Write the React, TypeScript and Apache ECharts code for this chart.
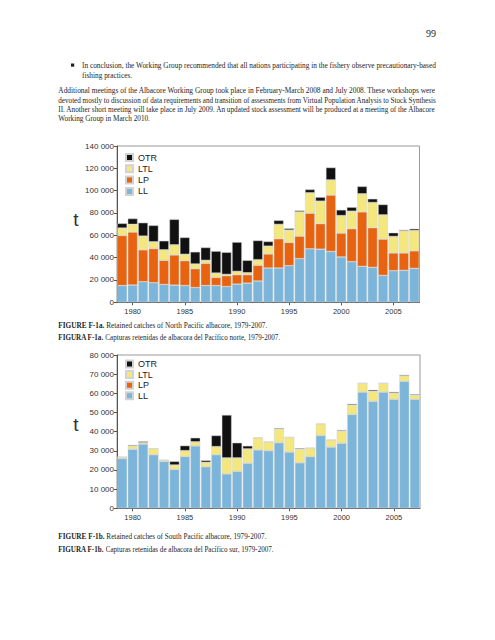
import React, { useEffect, useRef } from 'react';
import * as echarts from 'echarts';

const years = ['1979','1980','1981','1982','1983','1984','1985','1986','1987','1988','1989','1990','1991','1992','1993','1994','1995','1996','1997','1998','1999','2000','2001','2002','2003','2004','2005','2006','2007'];
const gearNames = ['OTR', 'LTL', 'LP', 'LL'];

// North Pacific (t)
const northLL = [15000,15400,18400,17500,16000,15400,15000,13200,15000,15000,14100,16300,17200,19000,30700,30700,32800,39100,47900,47600,45500,40600,36400,32200,31300,24100,28300,28600,30400];
const northLP = [44900,47500,28600,30700,21600,27000,22300,16900,19900,7300,9700,8400,7500,14100,12600,26200,20800,20200,31900,22800,50500,21400,29500,48800,35500,32500,15900,15600,15700];
const northLTL = [6600,6900,12300,6000,9400,9100,5700,4200,2700,3900,1200,3000,1800,5100,7000,12900,11100,21700,18300,20200,13600,15700,15700,16200,22600,21700,14800,19900,18300];
const northOTR = [4200,5200,12000,14700,8100,22800,15100,10900,11500,19600,19800,26200,11100,17200,4200,3600,1500,1200,3000,3600,11100,5100,3600,6600,3300,9300,3300,900,1500];

// South Pacific (t)
const southLL = [26000,30800,33600,28000,24500,20300,27000,32600,21700,28000,18000,19300,23600,30500,30100,34200,29400,23800,27000,38000,32000,34000,49000,60700,55900,60700,56900,66300,56900];
const southLP = [0,200,0,0,0,0,0,0,0,0,0,0,0,0,0,200,0,0,0,0,0,0,0,0,0,0,0,0,0];
const southLTL = [800,1600,700,3200,700,2300,3100,2100,2300,4200,8300,7000,7400,6300,4600,7000,7700,7000,4500,6100,3700,6300,4900,4600,5200,4600,3300,2900,2100];
const southOTR = [0,500,600,0,0,1900,2600,2100,1000,5800,22400,7900,1600,200,0,500,0,500,0,0,0,500,600,0,700,0,600,500,500];

const pageNumber = '99';
const bulletLine1 = 'In conclusion, the Working Group recommended that all nations participating in the fishery observe precautionary-based';
const bulletLine2 = 'fishing practices.';
const paraLines = [
  'Additional meetings of the Albacore Working Group took place in February-March 2008 and July 2008. These workshops were',
  'devoted mostly to discussion of data requirements and transition of assessments from Virtual Population Analysis to Stock Synthesis',
  'II. Another short meeting will take place in July 2009. An updated stock assessment will be produced at a meeting of the Albacore',
  'Working Group in March 2010.',
];
const captions = [
  ['FIGURE F-1a.', ' Retained catches of North Pacific albacore, 1979-2007.'],
  ['FIGURA F-1a.', ' Capturas retenidas de albacora del Pacífico norte, 1979-2007.'],
  ['FIGURE F-1b.', ' Retained catches of South Pacific albacore, 1979-2007.'],
  ['FIGURA F-1b.', ' Capturas retenidas de albacora del Pacífico sur, 1979-2007.'],
];

const COLORS: Record<string, string> = { LL: '#7bb5da', LP: '#e8630f', LTL: '#f3e77d', OTR: '#111111' };
const SERIF = '"Liberation Serif", "Times New Roman", serif';
const SANS = '"Liberation Sans", Arial, sans-serif';

const fmt = (v: number) => String(v).replace(/\B(?=(\d{3})+(?!\d))/g, ' ');

export default function App() {
  const ref = useRef<HTMLDivElement>(null);

  useEffect(() => {
    if (!ref.current) return;
    const ctx = document.createElement('canvas').getContext('2d')!;
    const measure = (t: string, size: number, weight = 'normal') => {
      ctx.font = `${weight} ${size}px ${SERIF}`;
      return ctx.measureText(t).width;
    };
    const FS = 9;
    const textEl = (t: string, x: number, y: number, sx: number, weight = 'normal', size = FS) => ({
      type: 'text', x, y, scaleX: sx, silent: true,
      style: { text: t, fontSize: size, fontFamily: SERIF, fontWeight: weight, fill: '#1e1e1e', textAlign: 'left', textVerticalAlign: 'middle' },
    });
    const justified = (t: string, x0: number, x1: number, y: number) => {
      const s = (x1 - x0) / measure(t, FS);
      return { el: textEl(t, x0, y, s), s };
    };

    const graphics: any[] = [];
    graphics.push({ type: 'text', x: 436, y: 33, silent: true, style: { text: pageNumber, fontSize: 10, fontFamily: SERIF, fill: '#222', textAlign: 'right', textVerticalAlign: 'middle' } });
    graphics.push({ type: 'rect', shape: { x: 71, y: 63.5, width: 3.2, height: 3.2 }, style: { fill: '#222' }, silent: true });
    const j1 = justified(bulletLine1, 82, 436.5, 65.3);
    graphics.push(j1.el);
    graphics.push(textEl(bulletLine2, 82, 75.3, j1.s));
    const paraY = [90.7, 100, 109.2, 118.3];
    let ps = 1;
    paraLines.forEach((t, i) => {
      if (i < 3) {
        const j = justified(t, 58.3, 436.5, paraY[i]);
        ps = j.s;
        graphics.push(j.el);
      } else {
        graphics.push(textEl(t, 58.3, paraY[i], ps));
      }
    });
    const capSpec = [
      { y: 325.7, x1: 267.5 },
      { y: 337.7, x1: 280 },
      { y: 536.7, x1: 266.7 },
      { y: 549, x1: 274 },
    ];
    captions.forEach(([b, r], i) => {
      const wb = measure(b, FS, 'bold');
      const wr = measure(r, FS);
      const s = (capSpec[i].x1 - 58.3) / (wb + wr);
      graphics.push(textEl(b, 58.3, capSpec[i].y, s, 'bold'));
      graphics.push(textEl(r, 58.3 + wb * s, capSpec[i].y, s));
    });
    graphics.push({ type: 'text', x: 76, y: 219, silent: true, style: { text: 't', fontSize: 19, fontFamily: SANS, fill: '#333', textAlign: 'center', textVerticalAlign: 'middle' } });
    graphics.push({ type: 'text', x: 76, y: 424, silent: true, style: { text: 't', fontSize: 19, fontFamily: SANS, fill: '#333', textAlign: 'center', textVerticalAlign: 'middle' } });

    const every5 = (_i: number, v: string) => Number(v) % 5 === 0;
    const xAxisFor = (gi: number) => ({
      gridIndex: gi, type: 'category', data: years,
      axisLine: { show: true, lineStyle: { color: '#555', width: 1 } },
      axisTick: { show: true, alignWithLabel: true, interval: every5, length: 3, lineStyle: { color: '#555' } },
      axisLabel: { interval: every5, fontSize: 7.5, fontFamily: SANS, color: '#333', margin: 5 },
      splitLine: { show: false },
    });
    const yAxisFor = (gi: number, max: number, interval: number) => ({
      gridIndex: gi, type: 'value', min: 0, max, interval,
      axisLine: { show: true, lineStyle: { color: '#555', width: 1 } },
      axisTick: { show: true, length: 3, lineStyle: { color: '#555' } },
      axisLabel: { fontSize: 8, fontFamily: SANS, color: '#333', margin: 3, formatter: fmt },
      splitLine: { show: false },
    });
    const barSeries = (name: string, data: number[], gi: number, stack: string) => ({
      type: 'bar', name, data, xAxisIndex: gi, yAxisIndex: gi, stack,
      barCategoryGap: '6%',
      itemStyle: { color: COLORS[name], borderColor: '#d2d2d2', borderWidth: 0.5 },
      emphasis: { disabled: true },
    });
    const legendFor = (top: number, gap: number) => ({
      data: gearNames, orient: 'vertical', left: 125, top, icon: 'rect',
      itemWidth: 7, itemHeight: 7, itemGap: gap, padding: 0, selectedMode: false,
      textStyle: { fontSize: 9, fontFamily: SANS, color: '#222', lineHeight: 9 },
    });

    const chart = echarts.init(ref.current, null, { renderer: 'svg' });
    chart.setOption({
      animation: false,
      backgroundColor: '#ffffff',
      grid: [
        { left: 117, top: 146, width: 302.5, height: 156.3, show: true, borderColor: '#999', borderWidth: 1 },
        { left: 117, top: 355, width: 303, height: 153.3, show: true, borderColor: '#999', borderWidth: 1 },
      ],
      xAxis: [xAxisFor(0), xAxisFor(1)],
      yAxis: [yAxisFor(0, 140000, 20000), yAxisFor(1, 80000, 10000)],
      legend: [legendFor(153, 2.3), legendFor(359.5, 1.6)],
      series: [
        barSeries('LL', northLL, 0, 'n'),
        barSeries('LP', northLP, 0, 'n'),
        barSeries('LTL', northLTL, 0, 'n'),
        barSeries('OTR', northOTR, 0, 'n'),
        barSeries('LL', southLL, 1, 's'),
        barSeries('LP', southLP, 1, 's'),
        barSeries('LTL', southLTL, 1, 's'),
        barSeries('OTR', southOTR, 1, 's'),
      ],
      graphic: graphics,
    });
    return () => chart.dispose();
  }, []);

  return <div ref={ref} style={{ position: 'absolute', left: 0, top: 0, width: 495, height: 640, background: '#fff' }} />;
}
